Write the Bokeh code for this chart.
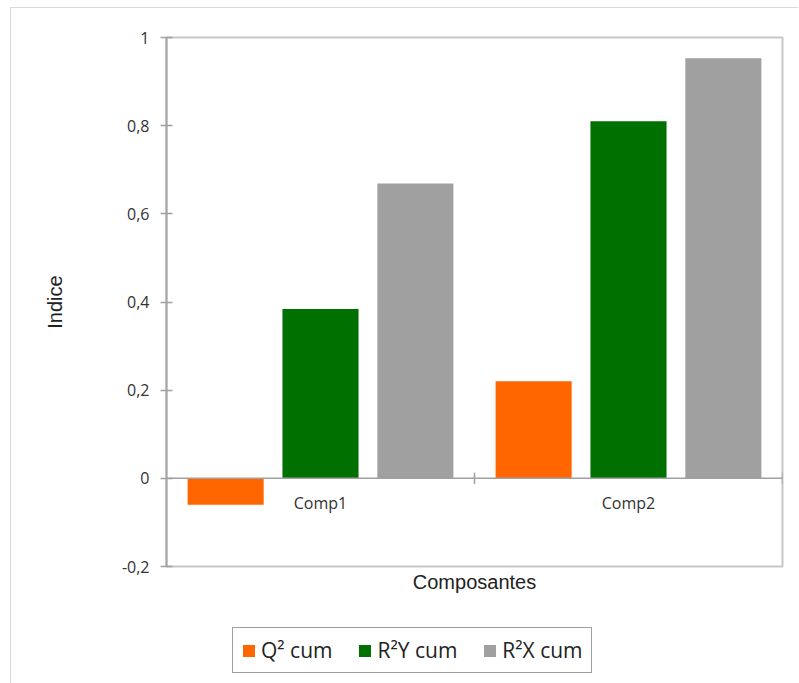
from bokeh.plotting import figure
from bokeh.layouts import column
from bokeh.models import (ColumnDataSource, Range1d, FactorRange, Legend, LegendItem,
                          Span, Title, FixedTicker)
from bokeh.transform import dodge
from bokeh.core.properties import value
from bokeh.embed import file_html
from bokeh.resources import INLINE

categories = ["Comp1", "Comp2"]
q2_cum = [-0.06, 0.22]
r2y_cum = [0.384, 0.81]
r2x_cum = [0.669, 0.953]
series_labels = ["Q² cum", "R²Y cum", "R²X cum"]
series_colors = ["#FF6600", "#007000", "#A0A0A0"]
y_ticks = [-0.2, 0, 0.2, 0.4, 0.6, 0.8, 1]
y_tick_labels = ["-0,2", "0", "0,2", "0,4", "0,6", "0,8", "1"]
boundaries = [1.0, 2.0]

src = ColumnDataSource(dict(cat=categories, q2=q2_cum, r2y=r2y_cum, r2x=r2x_cum,
                            zero=[0] * len(categories)))

W = 787
H1, H2 = 592, 83
bw = 0.247
off = 0.308

# ---------------- main chart ----------------
p = figure(width=W, height=H1, x_range=FactorRange(*categories, range_padding=0),
           y_range=Range1d(y_ticks[0], y_ticks[-1]), output_backend="svg", toolbar_location=None,
           min_border_left=155, min_border_right=16, min_border_top=29, min_border_bottom=34)
p.xgrid.visible = False
p.ygrid.visible = False
p.outline_line_color = "#c8c8c8"
p.outline_line_width = 2
p.background_fill_color = "white"
p.border_fill_color = "white"

p.vbar(x=dodge("cat", -off, range=p.x_range), top="q2", width=bw, source=src,
       color=series_colors[0], line_color=None)
p.vbar(x=dodge("cat", 0, range=p.x_range), top="r2y", width=bw, source=src,
       color=series_colors[1], line_color=None)
p.vbar(x=dodge("cat", off, range=p.x_range), top="r2x", width=bw, source=src,
       color=series_colors[2], line_color=None)

# zero line (category axis in the Excel chart)
p.add_layout(Span(location=0, dimension="width", line_color="#a0a0a0", line_width=1.5))
tick_src = ColumnDataSource(dict(x=boundaries, y0=[-0.013] * 2, y1=[0.013] * 2))
p.segment(x0="x", y0="y0", x1="x", y1="y1", source=tick_src, line_color="#a0a0a0", line_width=1.5)

# category labels under zero line
p.text(x="cat", y="zero", text="cat", source=src, text_align="center", text_baseline="middle",
       y_offset=25, text_font=value("Open Sans"), text_font_size="16px", text_color="#333333")

p.xaxis.visible = False
p.add_layout(Title(text="Composantes", align="center", text_font="Liberation Sans",
                   text_font_size="20px", text_font_style="normal", text_color="#222222",
                   standoff=4), "below")

ya = p.yaxis[0]
ya.ticker = FixedTicker(ticks=y_ticks)
ya.major_label_overrides = {t: l for t, l in zip(y_ticks, y_tick_labels)}
ya.minor_tick_line_color = None
ya.major_tick_in = 6
ya.major_tick_out = 6
ya.major_tick_line_color = "#a0a0a0"
ya.major_tick_line_width = 1.5
ya.axis_line_color = "#a6a6a6"
ya.axis_line_width = 2
ya.major_label_standoff = 11
ya.major_label_text_font = "Open Sans"
ya.major_label_text_font_size = "16px"
ya.major_label_text_color = "#333333"
ya.axis_label = "Indice"
ya.axis_label_text_font = "Liberation Sans"
ya.axis_label_text_font_size = "20px"
ya.axis_label_text_font_style = "normal"
ya.axis_label_text_color = "#222222"
ya.axis_label_standoff = 53

# ---------------- legend strip ----------------
p2 = figure(width=W, height=H2, x_range=FactorRange(*categories, range_padding=0),
            y_range=Range1d(10, 11), output_backend="svg", toolbar_location=None,
            x_axis_location=None, y_axis_location=None,
            min_border_left=0, min_border_right=0, min_border_top=0, min_border_bottom=0)
p2.xgrid.visible = False
p2.ygrid.visible = False
p2.outline_line_color = None
p2.background_fill_color = "white"
p2.border_fill_color = "white"
# same series (outside the visible range) so the legend draws their swatches
l1 = p2.vbar(x=dodge("cat", -off, range=p2.x_range), top="q2", width=bw, source=src,
             color=series_colors[0], line_color=None)
l2 = p2.vbar(x=dodge("cat", 0, range=p2.x_range), top="r2y", width=bw, source=src,
             color=series_colors[1], line_color=None)
l3 = p2.vbar(x=dodge("cat", off, range=p2.x_range), top="r2x", width=bw, source=src,
             color=series_colors[2], line_color=None)

legend = Legend(items=[LegendItem(label=series_labels[0], renderers=[l1]),
                       LegendItem(label=series_labels[1], renderers=[l2]),
                       LegendItem(label=series_labels[2], renderers=[l3])],
                orientation="horizontal", location=(66, 10),
                label_text_font="Open Sans", label_text_font_size="21px",
                label_text_color="#222222",
                glyph_width=15, glyph_height=15, label_standoff=5, spacing=25,
                padding=8, margin=0,
                border_line_color="#404040", border_line_width=1.5,
                background_fill_color="white", background_fill_alpha=1)
p2.add_layout(legend, "center")

layout = column(p, p2, spacing=0)
layout.styles = {"margin-left": "10px", "margin-top": "7px",
                 "border-left": "1px solid #d9d9d9", "border-top": "1px solid #d9d9d9"}

open("out.html", "w").write(file_html(layout, INLINE))
